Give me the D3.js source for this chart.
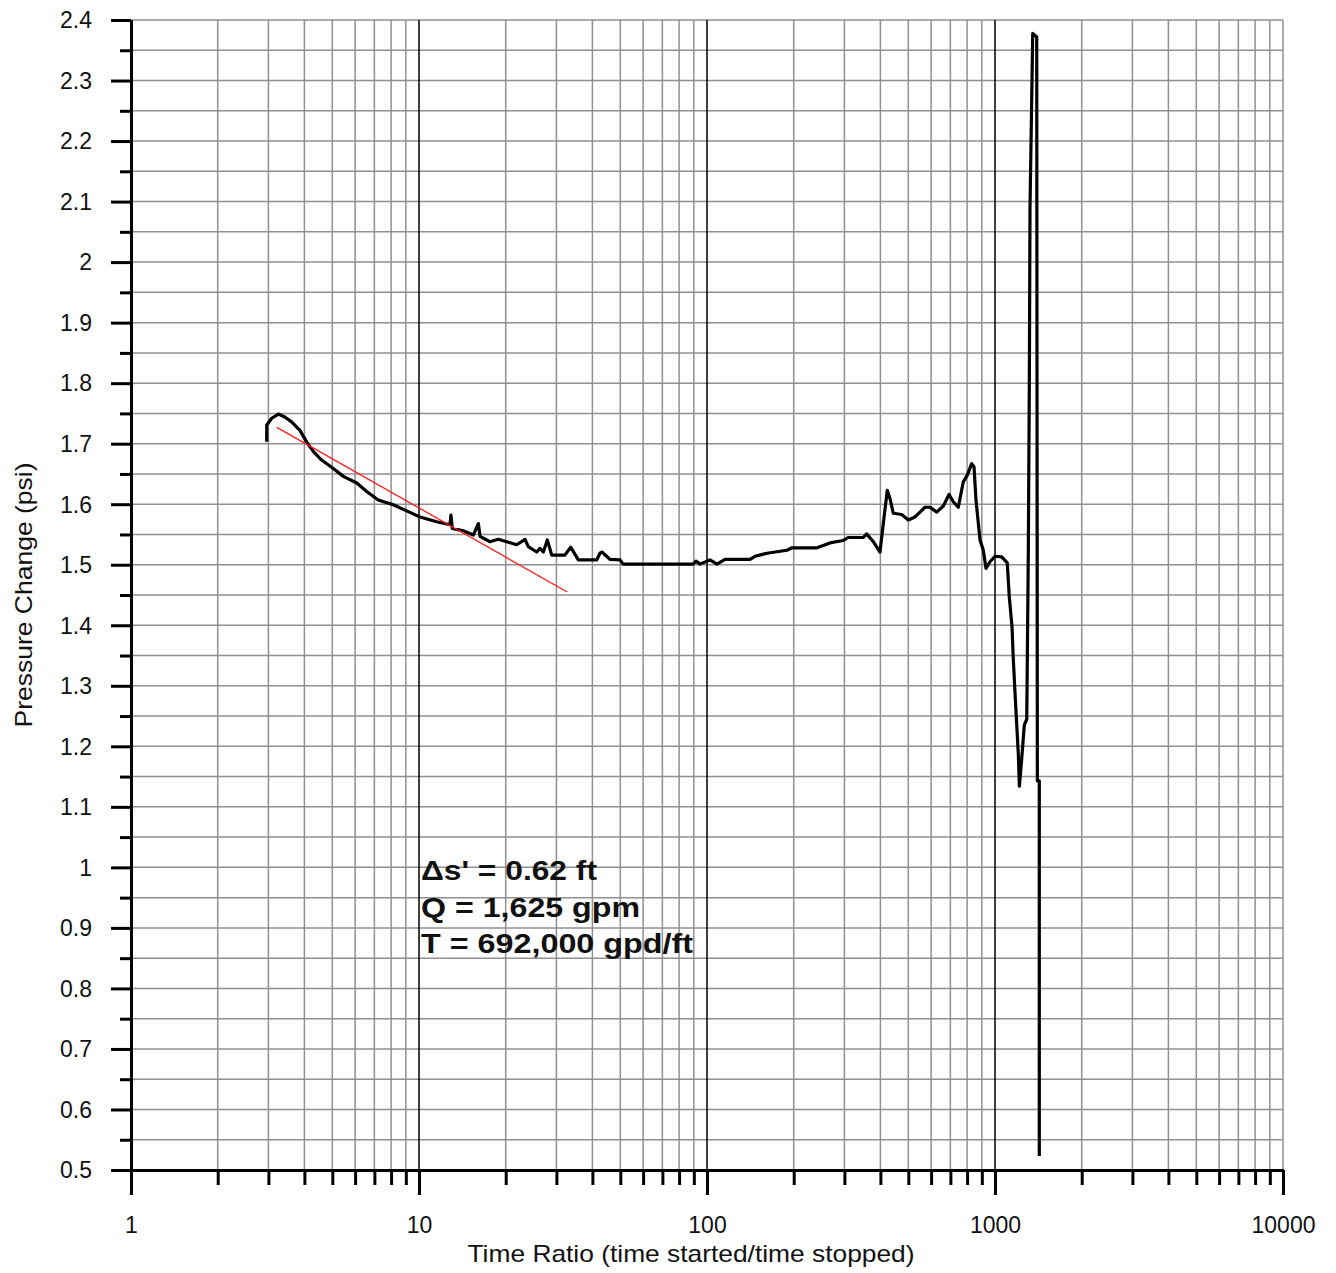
<!DOCTYPE html>
<html><head><meta charset="utf-8">
<script src="https://cdn.jsdelivr.net/npm/d3@7"></script>
<style>body{margin:0;background:#fff}svg{display:block}text{font-family:"Liberation Sans",Arial,sans-serif;fill:#111}</style>
</head><body><div id="chart"></div>
<script>
// Time ratio (t/t') and pressure change (psi)
const timeRatio = [2.96,2.96,3.08,3.25,3.42,3.61,3.86,4.07,4.30,4.59,5.04,5.46,6.08,6.58,7.22,8.14,9.06,10.08,11.52,12.81,12.91,13.05,14.25,15.44,16.07,16.29,17.64,18.85,20.16,21.84,23.34,23.96,25.63,26.31,27.02,27.89,28.89,32.13,33.63,35.74,41.4,42.5,43.2,46.0,49.9,51.1,89.4,91.6,94.6,102.4,108.3,115.5,141.1,146.8,161.6,189.6,197.3,241,267.4,296.7,308.8,348.9,358.4,378,398.7,409.4,422.7,432,443.6,474.2,500,527.6,571.3,594.6,627.6,661.6,692.4,716.5,745.7,776.1,801.3,830,845.5,859,887,910.8,930.6,960.7,1000,1055,1103,1121,1146,1157,1173,1189,1205,1215,1238,1264,1289,1305,1316,1323,1352,1396,1403,1425,1425];
const pressure = [1.703,1.731,1.742,1.749,1.744,1.736,1.722,1.703,1.687,1.673,1.659,1.646,1.635,1.621,1.607,1.599,1.589,1.579,1.571,1.566,1.582,1.560,1.556,1.549,1.568,1.547,1.538,1.542,1.538,1.533,1.542,1.530,1.521,1.527,1.521,1.541,1.516,1.516,1.529,1.508,1.508,1.519,1.521,1.509,1.508,1.501,1.501,1.506,1.501,1.508,1.501,1.509,1.509,1.514,1.519,1.524,1.528,1.528,1.536,1.540,1.545,1.545,1.551,1.538,1.521,1.568,1.623,1.609,1.585,1.583,1.574,1.579,1.595,1.595,1.587,1.597,1.616,1.604,1.595,1.637,1.648,1.667,1.662,1.607,1.541,1.524,1.494,1.505,1.514,1.513,1.503,1.447,1.397,1.346,1.290,1.238,1.187,1.134,1.179,1.235,1.245,1.518,1.805,2.089,2.378,2.372,1.143,1.143,0.523];
// Straight-line fit (red)
const fitRatio = [3.21, 32.7];
const fitPressure = [1.727, 1.455];
// Axis ticks
const xTickLabels = [1, 10, 100, 1000, 10000];
const yTickLabels = [0.5,0.6,0.7,0.8,0.9,1,1.1,1.2,1.3,1.4,1.5,1.6,1.7,1.8,1.9,2,2.1,2.2,2.3,2.4];
const yMinor = [0.55,0.65,0.75,0.85,0.95,1.05,1.15,1.25,1.35,1.45,1.55,1.65,1.75,1.85,1.95,2.05,2.15,2.25,2.35];
const annotation = ["\u0394s' = 0.62 ft", "Q = 1,625 gpm", "T = 692,000 gpd/ft"];
const xTitle = "Time Ratio (time started/time stopped)";
const yTitle = "Pressure Change (psi)";

const W = 1336, H = 1273;
const svg = d3.select("#chart").append("svg").attr("width", W).attr("height", H);
const x = d3.scaleLog().domain([1, 10000]).range([131, 1283]);
const y = d3.scaleLinear().domain([0.5, 2.4]).range([1170, 20]);

// minor x values
const xMinor = [];
[1, 10, 100, 1000].forEach(d => { for (let k = 2; k <= 9; k++) xMinor.push(k * d); });

const grid = svg.append("g");
// horizontal grid
grid.selectAll("line.h").data(yTickLabels.concat(yMinor).filter(v => v > 0.5)).enter().append("line")
  .attr("x1", x(1)).attr("x2", x(10000)).attr("y1", d => y(d)).attr("y2", d => y(d))
  .attr("stroke", "#909090").attr("stroke-width", 1.5);
// vertical minor grid
grid.selectAll("line.v").data(xMinor.concat([10000])).enter().append("line")
  .attr("x1", d => x(d)).attr("x2", d => x(d)).attr("y1", y(2.4)).attr("y2", y(0.5))
  .attr("stroke", "#909090").attr("stroke-width", 1.5);
// vertical decade lines
grid.selectAll("line.d").data([10, 100, 1000]).enter().append("line")
  .attr("x1", d => x(d)).attr("x2", d => x(d)).attr("y1", y(2.4)).attr("y2", y(0.5))
  .attr("stroke", "#000").attr("stroke-width", 1.5);

// Data curve
const line = d3.line().x(d => x(d[0])).y(d => y(d[1]));
svg.append("path").datum(timeRatio.map((t, i) => [t, pressure[i]]))
  .attr("d", line).attr("fill", "none").attr("stroke", "#000").attr("stroke-width", 3.2)
  .attr("stroke-linejoin", "round");
svg.append("path").datum(fitRatio.map((t, i) => [t, fitPressure[i]]))
  .attr("d", line).attr("fill", "none").attr("stroke", "#ff1a1a").attr("stroke-width", 1.3);

// Axes
const fmt = d => String(+d.toFixed(2));
const yAxis = svg.append("g").attr("transform", `translate(${x(1)},0)`)
  .call(d3.axisLeft(y).tickValues(yTickLabels).tickSize(20).tickSizeOuter(0).tickPadding(19).tickFormat(fmt));
const yAxisMinor = svg.append("g").attr("transform", `translate(${x(1)},0)`)
  .call(d3.axisLeft(y).tickValues(yMinor).tickSize(11).tickSizeOuter(0).tickFormat(""));
const xAxis = svg.append("g").attr("transform", `translate(0,${y(0.5)})`)
  .call(d3.axisBottom(x).tickValues(xTickLabels).tickSize(25).tickSizeOuter(0).tickPadding(21).tickFormat(d => String(d)));
const xAxisMinor = svg.append("g").attr("transform", `translate(0,${y(0.5)})`)
  .call(d3.axisBottom(x).tickValues(xMinor).tickSize(15).tickSizeOuter(0).tickFormat(""));
[yAxis, yAxisMinor, xAxis, xAxisMinor].forEach(g => {
  g.selectAll("path.domain").attr("stroke", "#000").attr("stroke-width", 3);
  g.selectAll(".tick line").attr("stroke", "#000").attr("stroke-width", 3);
  g.selectAll(".tick text").attr("font-size", 23).attr("fill", "#111")
    .style("font-family", '"Liberation Sans",Arial,sans-serif');
});
yAxis.selectAll(".tick text").attr("dy", "0.34em");
xAxis.selectAll(".tick text").attr("dy", "0.72em");

// Titles
svg.append("text").attr("x", 691).attr("y", 1262).attr("text-anchor", "middle")
  .attr("font-size", 24).attr("textLength", 447).attr("lengthAdjust", "spacingAndGlyphs").text(xTitle);
svg.append("text").attr("transform", "translate(32,595) rotate(-90)").attr("text-anchor", "middle")
  .attr("font-size", 24).attr("textLength", 265).attr("lengthAdjust", "spacingAndGlyphs").text(yTitle);

// Annotation
const annW = [176, 219, 272];
const annY = [880, 917, 953];
svg.selectAll("text.ann").data(annotation).enter().append("text")
  .attr("x", 421).attr("y", (d, i) => annY[i]).attr("font-size", 27).attr("font-weight", "bold")
  .attr("textLength", (d, i) => annW[i]).attr("lengthAdjust", "spacingAndGlyphs").text(d => d);
</script></body></html>
